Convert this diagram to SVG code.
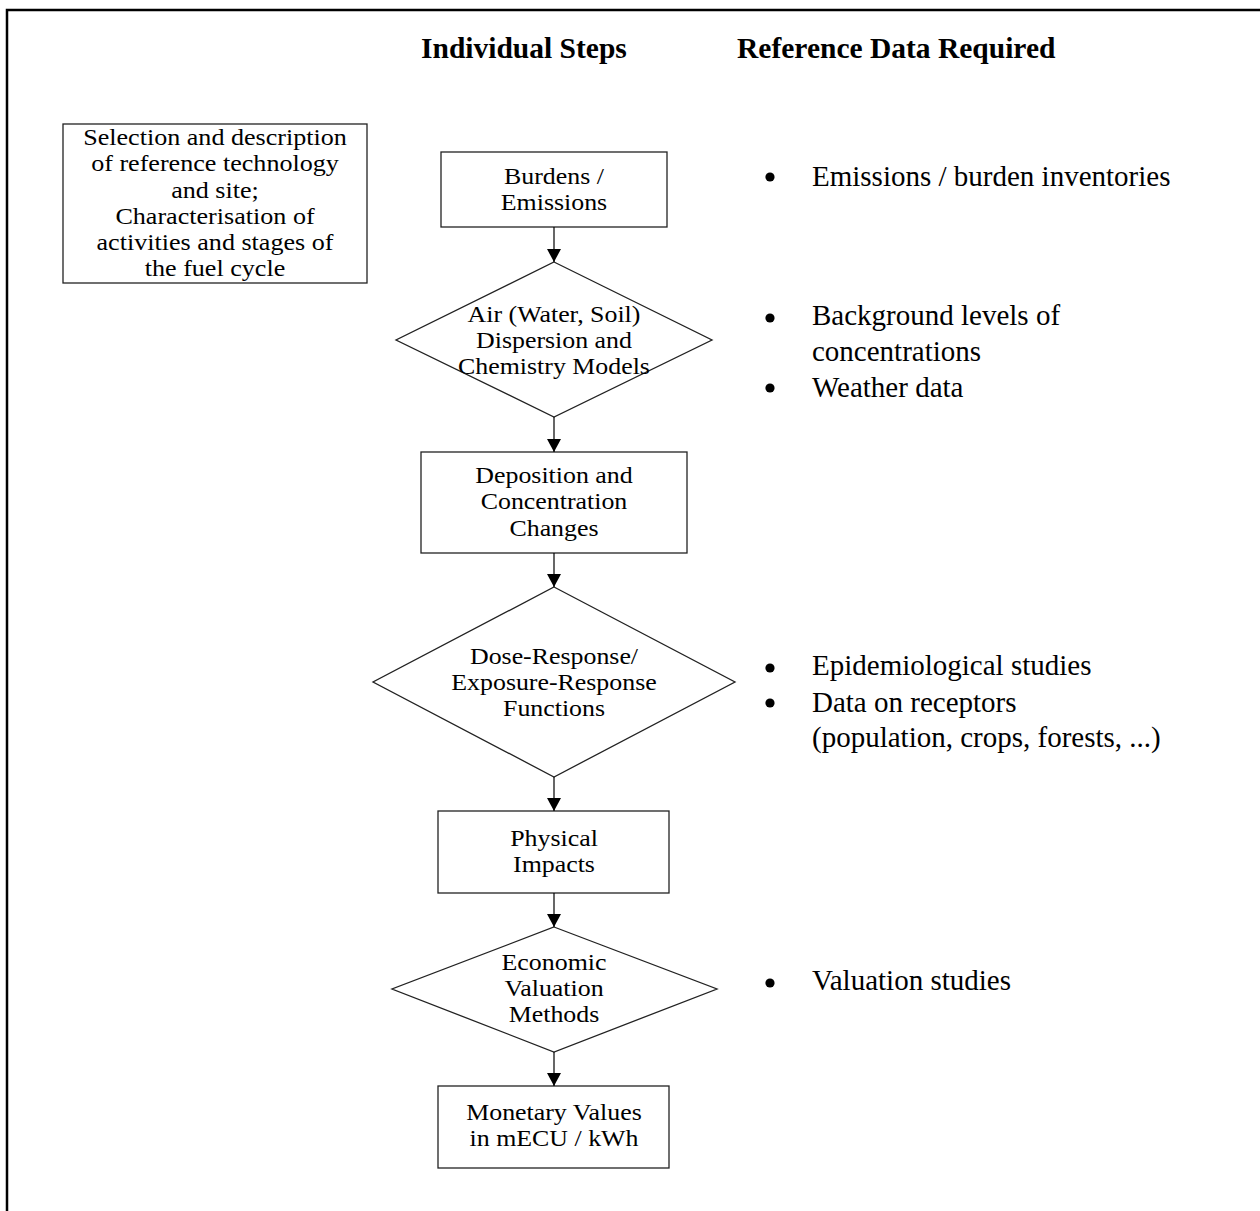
<svg xmlns="http://www.w3.org/2000/svg" width="1260" height="1211" viewBox="0 0 1260 1211">
<style>
.bg{fill:#fff}
.frame{fill:none;stroke:#000;stroke-width:2.5}
.box{fill:#fff;stroke:#222;stroke-width:1.3}
.conn{fill:none;stroke:#000;stroke-width:1.2}
.t{font-family:"Liberation Serif","Times New Roman",serif;font-size:22.5px;fill:#000;text-anchor:middle}
.h{font-family:"Liberation Serif","Times New Roman",serif;font-size:29.5px;font-weight:bold;fill:#000}
.b{font-family:"Liberation Serif","Times New Roman",serif;font-size:29px;fill:#000}
.dot{fill:#000}
</style>
<defs>
<marker id="arr" viewBox="0 0 13 14" refX="13" refY="7" markerWidth="13" markerHeight="14" markerUnits="userSpaceOnUse" orient="auto">
<path d="M0,0 L13,7 L0,14 z" fill="#000"/>
</marker>
</defs>
<rect class="bg" x="0" y="0" width="1260" height="1211"/>
<path class="frame" d="M7,1212 V10 H1261"/>

<g id="headers">
<text class="h" x="421" y="58">Individual Steps</text>
<text class="h" x="737" y="58">Reference Data Required</text>
</g>

<g id="node-selection">
<rect class="box" x="63" y="124" width="304" height="159"/>
<g transform="translate(215 0) scale(1.16 1)">
<text class="t" x="0" y="145">Selection and description</text>
<text class="t" x="0" y="171.3">of reference technology</text>
<text class="t" x="0" y="197.6">and site;</text>
<text class="t" x="0" y="223.9">Characterisation of</text>
<text class="t" x="0" y="250.2">activities and stages of</text>
<text class="t" x="0" y="276.5">the fuel cycle</text>
</g>
</g>

<g id="node-burdens">
<rect class="box" x="441" y="152" width="226" height="75"/>
<g transform="translate(554 0) scale(1.15 1)">
<text class="t" x="0" y="184">Burdens /</text>
<text class="t" x="0" y="210">Emissions</text>
</g>
</g>

<g id="node-dispersion">
<polygon class="box" points="554,262 712,340 554,417 396,340"/>
<g transform="translate(554 0) scale(1.15 1)">
<text class="t" x="0" y="322">Air (Water, Soil)</text>
<text class="t" x="0" y="348">Dispersion and</text>
<text class="t" x="0" y="374">Chemistry Models</text>
</g>
</g>

<g id="node-deposition">
<rect class="box" x="421" y="452" width="266" height="101"/>
<g transform="translate(554 0) scale(1.15 1)">
<text class="t" x="0" y="483">Deposition and</text>
<text class="t" x="0" y="509.5">Concentration</text>
<text class="t" x="0" y="536">Changes</text>
</g>
</g>

<g id="node-dose">
<polygon class="box" points="554,587 735,682 554,777 373,682"/>
<g transform="translate(554 0) scale(1.15 1)">
<text class="t" x="0" y="664">Dose-Response/</text>
<text class="t" x="0" y="690">Exposure-Response</text>
<text class="t" x="0" y="716">Functions</text>
</g>
</g>

<g id="node-physical">
<rect class="box" x="438" y="811" width="231" height="82"/>
<g transform="translate(554 0) scale(1.15 1)">
<text class="t" x="0" y="846">Physical</text>
<text class="t" x="0" y="872">Impacts</text>
</g>
</g>

<g id="node-valuation">
<polygon class="box" points="554,927 717,989 554,1052 392,989"/>
<g transform="translate(554 0) scale(1.15 1)">
<text class="t" x="0" y="970">Economic</text>
<text class="t" x="0" y="996">Valuation</text>
<text class="t" x="0" y="1022">Methods</text>
</g>
</g>

<g id="node-monetary">
<rect class="box" x="438" y="1086" width="231" height="82"/>
<g transform="translate(554 0) scale(1.15 1)">
<text class="t" x="0" y="1120">Monetary Values</text>
<text class="t" x="0" y="1146.5">in mECU / kWh</text>
</g>
</g>

<g id="connectors">
<line class="conn" x1="554" y1="227" x2="554" y2="262" marker-end="url(#arr)"/>
<line class="conn" x1="554" y1="417" x2="554" y2="452" marker-end="url(#arr)"/>
<line class="conn" x1="554" y1="553" x2="554" y2="587" marker-end="url(#arr)"/>
<line class="conn" x1="554" y1="777" x2="554" y2="811" marker-end="url(#arr)"/>
<line class="conn" x1="554" y1="893" x2="554" y2="927" marker-end="url(#arr)"/>
<line class="conn" x1="554" y1="1052" x2="554" y2="1086" marker-end="url(#arr)"/>
</g>

<g id="data-burdens">
<circle class="dot" cx="770" cy="177" r="4.6"/>
<text class="b" x="812" y="186">Emissions / burden inventories</text>
</g>
<g id="data-dispersion">
<circle class="dot" cx="770" cy="318" r="4.6"/>
<text class="b" x="812" y="325">Background levels of</text>
<text class="b" x="812" y="361">concentrations</text>
<circle class="dot" cx="770" cy="388" r="4.6"/>
<text class="b" x="812" y="397">Weather data</text>
</g>
<g id="data-dose">
<circle class="dot" cx="770" cy="668" r="4.6"/>
<text class="b" x="812" y="675">Epidemiological studies</text>
<circle class="dot" cx="770" cy="703" r="4.6"/>
<text class="b" x="812" y="712">Data on receptors</text>
<text class="b" x="812" y="747">(population, crops, forests, ...)</text>
</g>
<g id="data-valuation">
<circle class="dot" cx="770" cy="983" r="4.6"/>
<text class="b" x="812" y="990">Valuation studies</text>
</g>
</svg>
